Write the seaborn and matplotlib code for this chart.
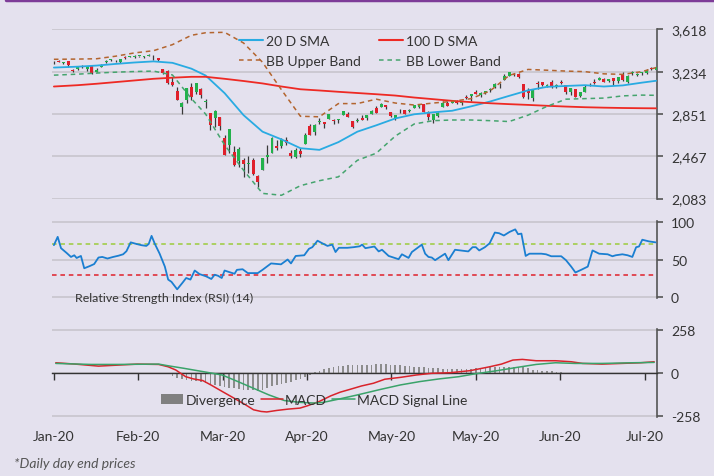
import numpy as np
import pandas as pd
import matplotlib.pyplot as plt
from matplotlib.lines import Line2D
from matplotlib.patches import Patch
import seaborn as sns

BG = '#e4e1ee'
sns.set_theme(style="white", rc={'axes.facecolor': BG, 'figure.facecolor': BG})
plt.rcParams['font.family'] = ['Lato', 'DejaVu Sans']
plt.rcParams['axes.unicode_minus'] = False

# daily candles, trading days 21 Jan - 22 Jul 2020
opens = [3321, 3330, 3316, 3334, 3248, 3255, 3289, 3256, 3282,
         3235, 3280, 3324, 3344, 3335, 3318, 3366, 3371, 3365, 3379, 3369, 3380, 3380, 3360, 3257, 3238, 3140, 3062, 2916,
         2974, 3096, 3046, 3075, 2955, 2863, 2814, 2826, 2630, 2570, 2509, 2426, 2437, 2394, 2431, 2291, 2345, 2457, 2501, 2556, 2558, 2614,
         2499, 2459, 2515, 2578, 2739, 2686, 2776, 2782, 2805, 2796, 2799, 2842, 2846, 2785, 2787, 2810, 2812, 2854, 2909, 2918, 2930,
         2870, 2815, 2869, 2883, 2879, 2908, 2915, 2940, 2865, 2794, 2829, 2914, 2948, 2953, 2969, 2948, 3005, 3016, 3046, 3025,
         3038, 3064, 3098, 3112, 3163, 3199, 3214, 3213, 3123, 3072, 2994, 3132, 3137, 3101, 3141, 3095, 3138, 3115, 3047, 3073, 3018, 3050,
         3105, 3144, 3155, 3167, 3154, 3177, 3153, 3206, 3142, 3226, 3209, 3224, 3224, 3269, 3254]
highs = [3329, 3337, 3326, 3334, 3259, 3285, 3293, 3286, 3282,
         3268, 3306, 3338, 3348, 3341, 3352, 3375, 3381, 3385, 3381, 3375, 3393, 3390, 3360, 3259, 3247, 3182, 3098, 2959,
         3091, 3136, 3131, 3084, 2985, 2863, 2883, 2826, 2660, 2711, 2563, 2553, 2454, 2466, 2453, 2300, 2449, 2572, 2638, 2615, 2631, 2641,
         2522, 2539, 2538, 2677, 2756, 2761, 2818, 2782, 2852, 2801, 2807, 2880, 2868, 2785, 2815, 2845, 2842, 2887, 2922, 2954, 2931,
         2870, 2844, 2898, 2891, 2892, 2933, 2945, 2945, 2875, 2852, 2865, 2969, 2965, 2980, 2978, 2957, 3022, 3036, 3069, 3050,
         3063, 3082, 3131, 3128, 3212, 3233, 3223, 3223, 3123, 3089, 3079, 3154, 3142, 3121, 3155, 3120, 3155, 3116, 3086, 3073, 3054, 3112,
         3129, 3165, 3183, 3174, 3172, 3180, 3187, 3236, 3200, 3239, 3221, 3234, 3258, 3277, 3279]
lows = [3302, 3320, 3301, 3281, 3234, 3253, 3271, 3243, 3214,
        3235, 3280, 3313, 3333, 3323, 3317, 3352, 3370, 3360, 3367, 3355, 3379, 3341, 3328, 3215, 3119, 3108, 2977, 2855,
        2946, 2976, 3035, 2999, 2901, 2707, 2734, 2707, 2478, 2492, 2380, 2367, 2281, 2319, 2295, 2192, 2345, 2407, 2500, 2520, 2545, 2572,
        2448, 2455, 2459, 2574, 2657, 2664, 2762, 2721, 2805, 2761, 2765, 2842, 2821, 2727, 2776, 2794, 2797, 2853, 2860, 2912, 2892,
        2822, 2798, 2863, 2847, 2869, 2908, 2909, 2869, 2794, 2766, 2821, 2914, 2921, 2953, 2939, 2934, 2988, 2970, 3028, 3007,
        3032, 3051, 3091, 3090, 3163, 3196, 3193, 3181, 2999, 2984, 2966, 3076, 3108, 3093, 3084, 3083, 3124, 3033, 3024, 3005, 3003, 3048,
        3101, 3124, 3155, 3141, 3137, 3115, 3136, 3152, 3128, 3208, 3194, 3209, 3215, 3248, 3254]
closes = [3321, 3322, 3326, 3295, 3244, 3276, 3273, 3284, 3226,
          3249, 3298, 3335, 3346, 3328, 3352, 3358, 3379, 3374, 3380, 3370, 3386, 3373, 3338, 3226, 3128, 3116, 2979, 2954,
          3090, 3003, 3130, 3024, 2972, 2747, 2882, 2741, 2481, 2711, 2386, 2529, 2398, 2409, 2305, 2237, 2447, 2476, 2630, 2541, 2627, 2585,
          2471, 2527, 2489, 2664, 2659, 2750, 2790, 2762, 2846, 2783, 2800, 2875, 2823, 2737, 2799, 2798, 2837, 2878, 2863, 2940, 2912,
          2831, 2843, 2868, 2848, 2881, 2930, 2930, 2870, 2820, 2852, 2864, 2954, 2923, 2972, 2949, 2955, 2992, 3036, 3030, 3044,
          3056, 3081, 3123, 3112, 3194, 3232, 3207, 3190, 3002, 3041, 3067, 3125, 3113, 3115, 3098, 3118, 3131, 3050, 3084, 3009, 3053, 3100,
          3116, 3130, 3180, 3145, 3170, 3152, 3185, 3155, 3198, 3227, 3216, 3225, 3252, 3257, 3276]

# moving averages and bands at these trading days
line_days = [0, 5, 9, 13, 17, 21, 25, 29, 32, 36, 40, 44, 48, 52, 56, 60, 64,
             68, 72, 76, 80, 84, 88, 92, 96, 100, 104, 108, 112, 116, 120, 124, 127]
sma20 = [3272, 3280, 3290, 3305, 3318, 3328, 3315, 3262, 3200, 3040, 2840, 2690, 2620, 2540, 2525, 2595, 2690,
         2748, 2810, 2848, 2866, 2880, 2920, 2964, 3015, 3065, 3097, 3105, 3112, 3100, 3110, 3135, 3152]
sma100 = [3100, 3112, 3125, 3140, 3155, 3170, 3180, 3188, 3188, 3170, 3150, 3128, 3100, 3075, 3064, 3052, 3041,
          3030, 3018, 3000, 2985, 2970, 2958, 2948, 2940, 2933, 2925, 2918, 2912, 2908, 2905, 2903, 2902]
bb_upper = [3347, 3349, 3352, 3375, 3405, 3425, 3480, 3565, 3588, 3592, 3495, 3320, 3070, 2830, 2825, 2945, 2945,
            2985, 2950, 2932, 2950, 2965, 2990, 3060, 3200, 3255, 3248, 3240, 3235, 3215, 3210, 3235, 3272]
bb_lower = [3203, 3212, 3222, 3230, 3236, 3240, 3205, 2990, 2850, 2570, 2340, 2130, 2113, 2200, 2245, 2280, 2430,
            2495, 2650, 2760, 2790, 2796, 2796, 2790, 2782, 2840, 2920, 2985, 2990, 2995, 3015, 3022, 3020]

rsi_days = [0.0, 0.8, 1.5, 2.7, 3.6, 4.3, 4.8, 5.7, 6.4, 7.6, 8.5, 9.4, 10.2, 11.3, 12.5, 13.6, 14.6, 15.3, 16.2, 17.4,
            18.5, 19.5, 20.0, 20.6, 21.3, 22.3, 23.4, 24.1, 24.8, 26.0, 27.1, 27.9, 28.8, 29.7, 30.7, 32.1, 33.2, 33.9, 34.6, 35.4,
            36.0, 37.0, 38.1, 38.6, 39.8, 40.9, 43.0, 44.0, 45.8, 47.9, 49.3, 50.0, 51.0, 52.8, 53.8, 54.5, 55.6, 56.6, 57.7, 58.7,
            59.4, 60.1, 61.9, 63.2, 64.5, 65.0, 65.7, 67.6, 68.5, 69.2, 70.6, 72.7, 73.4, 74.8, 75.5, 77.6, 78.3, 79.0, 79.7, 80.4,
            82.5, 83.2, 84.6, 87.4, 88.3, 89.0, 89.7, 90.9, 91.9, 93.0, 93.9, 94.9, 96.1, 97.3, 97.9, 98.6, 99.5, 100.3, 102.8, 103.8,
            104.9, 107.0, 108.0, 109.1, 110.0, 111.2, 112.6, 113.6, 115.0, 116.8, 117.8, 118.5, 119.9, 121.0, 122.0, 122.8, 123.4, 124.1, 125.5, 126.9]
rsi = [69, 80, 65, 58.6, 53.4, 55.6, 52, 54.7, 38.4, 41.4, 44, 52.6, 53.4, 51.3, 53.4, 55, 56.9, 61, 72.7, 70.6,
       68.9, 68, 70.6, 81.3, 70.6, 57.7, 40.6, 23.4, 20.4, 10.5, 19, 25.5, 23.4, 35.4, 30.7, 27.7, 24.2, 29.8, 28.5, 25.5,
       35.4, 33.3, 31.1, 36.3, 37.1, 32, 32, 36.3, 44.8, 43.6, 50, 44.8, 54.7, 55.6, 64.2, 66.3, 74.9, 71.5, 68, 69.7,
       59.9, 65.5, 65.5, 66.3, 67.5, 69.7, 65, 67.2, 60.7, 62.9, 54.7, 50.4, 56.9, 52.1, 59.9, 69.7, 57.7, 53.4, 52.6, 49.1,
       57.7, 49.1, 62.9, 60.7, 66.3, 66.3, 62, 66.3, 71.5, 85.7, 84.8, 81.8, 86.5, 89.9, 83.5, 84.3, 54.7, 57.7, 57.7, 56.9,
       54.3, 54.3, 49.1, 40.6, 32.8, 36.3, 40.6, 62, 57.7, 56.9, 54.3, 55.6, 56.9, 55.6, 53.4, 66.3, 67.2, 76.2, 74, 72.7]

macd_days = [0.4, 4.5, 9.4, 13.5, 17.6, 22.1, 24.1, 25.7, 27.8, 29.4, 31.4, 33.1, 35.5, 38.0, 40.4, 42.1,
             43.7, 44.9, 47.0, 49.4, 51.9, 53.5, 56.0, 58.4, 60.4, 62.5, 64.9, 67.4, 69.8, 73.1, 76.4, 79.6,
             83.7, 87.8, 91.9, 94.4, 96.8, 98.8, 101.7, 105.8, 109.1, 111.5, 115.6, 119.7, 123.8, 126.6]
macd = [61, 53, 41, 47, 53, 51, 37, 18, -22, -35, -45, -71, -110, -150, -189, -219,
        -229, -232, -223, -215, -209, -195, -169, -136, -114, -97, -77, -61, -37, -26, -12, -2,
        2, 14, 37, 53, 77, 81, 73, 73, 67, 57, 53, 57, 61, 67]
signal_days = [0.4, 7.8, 13.5, 22.1, 24.1, 27.4, 32.3, 35.5, 38.8, 42.1, 45.3, 48.6, 51.9, 55.1, 56.8, 60.0,
               64.1, 69.0, 73.1, 77.2, 81.3, 85.4, 88.6, 93.5, 97.6, 101.7, 105.8, 109.9, 115.6, 122.1, 126.6]
signal = [57, 51, 51, 53, 43, 28, 4, -12, -51, -91, -130, -164, -175, -179, -175, -156,
          -130, -97, -71, -51, -35, -22, -6, 14, 33, 51, 61, 57, 57, 61, 63]
divergence = [-3, -4, -5, -6, -6, -7, -6, -5, -4, -4, -3, -3, -2, -2, -2, -1, -1, -1, -2, -2, -2, -3, -4, -6,
              -8, -18, -28, -35, -41, -45, -49, -53, -59, -66, -73, -79, -84, -87, -92, -96, -99, -102, -104, -106,
              -100, -92, -80, -71, -64, -58, -51, -44, -34, -24, -10,
              6, 14, 22, 27, 35, 41, 44, 46, 47, 48, 49, 49, 50, 51, 52, 53, 50, 47, 45, 42, 40, 37, 35, 34, 32,
              30, 28, 26, 24, 22, 23, 24, 25, 26, 28, 30, 32, 33, 34, 34, 35, 37, 37, 38, 40, 28, 18, 15, 13, 12, 9, 7, 4,
              2, 1, -1, -2, -3, -3, -3, -2, -2, -2, -2, -1, -1, -1, -1, -1, 0, 1, 1, 2]

price_ticks = [2083, 2467, 2851, 3234, 3618]
rsi_ticks = [0, 50, 100]
macd_ticks = [-258, 0, 258]
month_labels = ['Jan-20', 'Feb-20', 'Mar-20', 'Apr-20', 'May-20', 'May-20', 'Jun-20', 'Jul-20']

GREEN, RED = '#22b14c', '#e0202b'
GRID = '#c8c5cd'
TXT = '#333333'

candles = pd.DataFrame({'open': opens, 'high': highs, 'low': lows, 'close': closes})
candles['day'] = np.arange(len(candles))
bands = pd.DataFrame({'day': line_days, 'sma20': sma20, 'sma100': sma100,
                      'upper': bb_upper, 'lower': bb_lower})

W, H = 714, 477
fig = plt.figure(figsize=(W / 100, H / 100), dpi=100)


def panel(top, bottom):
    return fig.add_axes([52 / W, 1 - bottom / H, 605 / W, (bottom - top) / H])


ax1 = panel(30, 200)
ax2 = panel(222, 299)
ax3 = panel(330, 418)
xlim = (-0.4, 127.2)

# --- price panel ---
up = candles['close'] >= candles['open']
body_lo = candles[['open', 'close']].min(axis=1)
body_h = (candles['close'] - candles['open']).abs().clip(lower=4)
ax1.vlines(candles['day'], candles['low'], candles['high'], color='#3a3a3a', lw=0.9, zorder=2)
ax1.bar(candles['day'], body_h, bottom=body_lo, width=0.62, linewidth=0,
        color=np.where(up, GREEN, RED), zorder=3)

sns.lineplot(data=bands, x='day', y='sma20', ax=ax1, color='#29abe2', lw=1.3, zorder=4)
sns.lineplot(data=bands, x='day', y='sma100', ax=ax1, color='#ee2a24', lw=1.3, zorder=4)
sns.lineplot(data=bands, x='day', y='upper', ax=ax1, color='#b3652f', lw=1.1,
             linestyle=(0, (3, 2.5)), zorder=4)
sns.lineplot(data=bands, x='day', y='lower', ax=ax1, color='#45a46e', lw=1.1,
             linestyle=(0, (3, 2.5)), zorder=4)
ax1.set_ylim(2083 - 4, 3618 + 4)
ax1.set_yticks(price_ticks)
ax1.set_yticklabels([f'{v:,}' for v in price_ticks])

leg_handles = [Line2D([], [], color='#29abe2', lw=1.5),
               Line2D([], [], color='#b3652f', lw=1.1, linestyle=(0, (3, 2.5))),
               Line2D([], [], color='#ee2a24', lw=1.5),
               Line2D([], [], color='#45a46e', lw=1.1, linestyle=(0, (3, 2.5)))]
ax1.legend(leg_handles, ['20 D SMA', 'BB Upper Band', '100 D SMA', 'BB Lower Band'],
           ncol=2, loc='upper left', bbox_to_anchor=(239 / W, 1 - 36 / H),
           bbox_transform=fig.transFigure, frameon=False, fontsize=10,
           handlelength=1.7, handletextpad=0.25, columnspacing=1.3,
           labelspacing=0.55, borderpad=0, borderaxespad=0, labelcolor=TXT)

# --- RSI panel ---
sns.lineplot(x=rsi_days, y=rsi, ax=ax2, color='#1b7fd1', lw=1.3, zorder=4)
ax2.axhline(70, color='#9ccc3c', lw=1.1, linestyle=(0, (3, 2.5)), zorder=3)
ax2.axhline(30, color='#e0202b', lw=1.1, linestyle=(0, (3, 2.5)), zorder=3)
ax2.set_ylim(-1, 101)
ax2.set_yticks(rsi_ticks)
ax2.text(23 / 605, 0, 'Relative Strength Index (RSI) (14)',
         transform=ax2.get_yaxis_transform().__class__(ax2.transAxes, ax2.transData),
         va='center', ha='left', fontsize=8.9, color=TXT)

# --- MACD panel ---
ax3.bar(np.arange(len(divergence)), divergence, width=0.35, linewidth=0,
        color='#8c8c8c', zorder=2)
sns.lineplot(x=macd_days, y=macd, ax=ax3, color='#d9232b', lw=1.1, zorder=4)
sns.lineplot(x=signal_days, y=signal, ax=ax3, color='#3aa36a', lw=1.1, zorder=4)
ax3.set_ylim(-262, 262)
ax3.set_yticks(macd_ticks)
ax3.legend([Patch(facecolor='#808080', linewidth=0), Line2D([], [], color='#d9232b', lw=1.1),
            Line2D([], [], color='#3aa36a', lw=1.1)],
           ['Divergence', 'MACD', 'MACD Signal Line'], ncol=3, loc='upper left',
           bbox_to_anchor=(161 / W, 1 - 395 / H), bbox_transform=fig.transFigure,
           frameon=False, fontsize=10, handlelength=1.6, handletextpad=0.15,
           columnspacing=0.4, borderpad=0, borderaxespad=0, labelcolor=TXT)
ax3.spines['bottom'].set_position(('data', 0))
ax3.spines['bottom'].set_color('#333333')
ax3.spines['bottom'].set_linewidth(1)
ax3.set_xticks(np.arange(8) * 17.8)
ax3.set_xticklabels(month_labels)
ax3.tick_params(axis='x', bottom=True, direction='out', length=5, width=1,
                color='#333333', pad=36, labelsize=10, labelcolor=TXT)

for ax in (ax1, ax2, ax3):
    ax.set_xlim(*xlim)
    ax.set_xlabel('')
    ax.set_ylabel('')
    ax.set_facecolor('none')
    ax.grid(axis='y', color=GRID, lw=1.2)
    ax.grid(axis='x', visible=False)
    ax.set_axisbelow(True)
    for s in ('top', 'left'):
        ax.spines[s].set_visible(False)
    ax.spines['right'].set_color('#555555')
    ax.spines['right'].set_linewidth(1.2)
    ax.yaxis.tick_right()
    ax.tick_params(axis='y', right=True, direction='out', length=4, width=1.2,
                   color='#555555', pad=6, labelsize=10, labelcolor=TXT)
for ax in (ax1, ax2):
    ax.spines['bottom'].set_visible(False)
    ax.tick_params(axis='x', bottom=False, labelbottom=False)

fig.text(14 / W, 1 - 464 / H, '*Daily day end prices', style='italic',
         color='#555555', fontsize=10, va='center')
fig.add_artist(Line2D([0.008, 1], [0.998, 0.998], transform=fig.transFigure,
                      color='#7d3c98', lw=2.5))

fig.savefig('out.png', dpi=100, facecolor=BG)
